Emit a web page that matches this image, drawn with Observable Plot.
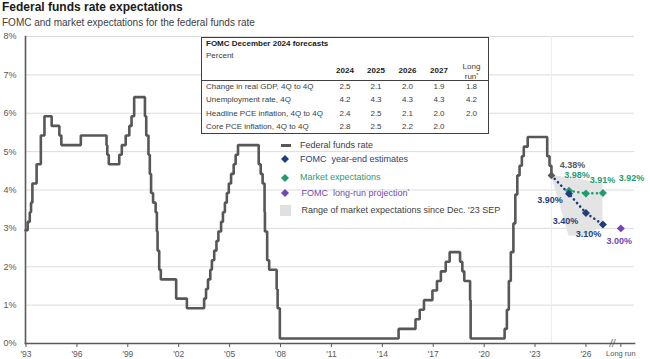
<!DOCTYPE html>
<html><head><meta charset="utf-8">
<script src="https://cdn.jsdelivr.net/npm/d3@7"></script>
<script src="https://cdn.jsdelivr.net/npm/@observablehq/plot@0.6"></script>
<style>
html,body{margin:0;padding:0;background:#fff;}
#wrap{position:relative;width:650px;height:359px;overflow:hidden;font-family:"Liberation Sans",Arial,Helvetica,sans-serif;}
.abs{position:absolute;white-space:nowrap;}
</style></head><body><div id="wrap"></div>
<script>
// ---------------- DATA ----------------
const titleText = "Federal funds rate expectations";
const subtitleText = "FOMC and market expectations for the federal funds rate";

const ffrDates = [
 "1993-12-20","1994-02-04","1994-03-22","1994-04-18","1994-05-17","1994-08-16","1994-11-15",
 "1995-02-01","1995-07-06","1995-12-19","1996-01-31","1997-03-25","1998-09-29","1998-10-15",
 "1998-11-17","1999-06-30","1999-08-24","1999-11-16","2000-02-02","2000-03-21","2000-05-16",
 "2001-01-03","2001-01-31","2001-03-20","2001-04-18","2001-05-15","2001-06-27","2001-08-21",
 "2001-09-17","2001-10-02","2001-11-06","2001-12-11","2002-11-06","2003-06-25","2004-06-30",
 "2004-08-10","2004-09-21","2004-11-10","2004-12-14","2005-02-02","2005-03-22","2005-05-03",
 "2005-06-30","2005-08-09","2005-09-20","2005-11-01","2005-12-13","2006-01-31","2006-03-28",
 "2006-05-10","2006-06-29","2007-09-18","2007-10-31","2007-12-11","2008-01-22","2008-01-30",
 "2008-03-18","2008-04-30","2008-10-08","2008-10-29","2008-12-16","2015-12-16","2016-12-14",
 "2017-03-15","2017-06-14","2017-12-13","2018-03-21","2018-06-13","2018-09-26","2018-12-19",
 "2019-07-31","2019-09-18","2019-10-30","2020-03-03","2020-03-15","2022-03-16","2022-05-04",
 "2022-06-15","2022-07-27","2022-09-21","2022-11-02","2022-12-14","2023-02-01","2023-03-22",
 "2023-05-03","2023-07-26","2024-09-18","2024-11-07","2024-12-18"
];
const ffrValues = [
 2.95,3.17,3.42,3.67,4.17,4.67,5.42,
 5.92,5.67,5.42,5.17,5.42,5.17,4.92,
 4.67,4.92,5.17,5.42,5.67,5.92,6.42,
 5.92,5.42,4.92,4.42,3.92,3.67,3.42,
 2.92,2.42,1.92,1.67,1.17,0.92,1.17,
 1.42,1.67,1.92,2.17,2.42,2.67,2.92,
 3.17,3.42,3.67,3.92,4.17,4.42,4.67,
 4.92,5.17,4.67,4.42,4.17,3.42,2.92,
 2.17,1.92,1.42,0.92,0.13,0.38,0.63,
 0.88,1.13,1.38,1.63,1.88,2.13,2.38,
 2.13,1.88,1.63,1.13,0.13,0.38,0.88,
 1.63,2.38,3.13,3.88,4.38,4.63,4.88,
 5.13,5.38,4.88,4.63,4.38
];

const currentDate = "2024-12-18";
const currentValue = 4.38;
const forecastDates = ["2025-12-31","2026-12-31","2027-12-31"];
const fomcValues = [3.90, 3.40, 3.10];
const marketValues = [3.98, 3.91, 3.92];
const longRunDate = "2029-01-20";
const longRunValue = 3.00;

const rangeDates = ["2024-12-18","2025-12-31","2026-12-31","2027-12-31"];
const rangeLow  = [4.38, 2.80, 2.80, 3.05];
const rangeHigh = [4.38, 4.32, 4.25, 4.17];

const xTickYears  = [1993,1996,1999,2002,2005,2008,2011,2014,2017,2020,2023,2026];
const xTickLabels = ["'93","'96","'99","'02","'05","'08","'11","'14","'17","'20","'23","'26"];
const longRunLabel = "Long run";
const yTicks = [0,1,2,3,4,5,6,7,8];

const legendLabels = ["Federal funds rate","FOMC  year-end estimates","Market expectations","FOMC  long-run projection*","Range of market expectations since Dec. '23 SEP"];

const tableTitle = "FOMC December 2024 forecasts";
const tableUnit = "Percent";
const tableColumns = ["2024","2025","2026","2027","Long run*"];
const tableRowLabels = ["Change in real GDP, 4Q to 4Q","Unemployment rate, 4Q","Headline PCE inflation, 4Q to 4Q","Core PCE inflation, 4Q to 4Q"];
const gdpRow   = ["2.5","2.1","2.0","1.9","1.8"];
const unempRow = ["4.2","4.3","4.3","4.3","4.2"];
const pceRow   = ["2.4","2.5","2.1","2.0","2.0"];
const corePceRow = ["2.8","2.5","2.2","2.0",""];

// ---------------- STYLE ----------------
const C = {
  ffr: "#575757", navy: "#1f3f7c", green: "#1f9d72", purple: "#7047b8",
  grid: "#dcdcdc", axis: "#595959", text: "#404040", range: "#e4e4e4"
};
const FONT = '"Liberation Sans", Arial, Helvetica, sans-serif';

// ---------------- BUILD ----------------
const parse = d3.utcParse("%Y-%m-%d");
const ffr = ffrDates.map((d, i) => ({date: parse(d), value: ffrValues[i]}));
const cur = {date: parse(currentDate), value: currentValue};
const fomc = forecastDates.map((d, i) => ({date: parse(d), value: fomcValues[i]}));
const market = forecastDates.map((d, i) => ({date: parse(d), value: marketValues[i]}));
const longRun = {date: parse(longRunDate), value: longRunValue};
const range = rangeDates.map((d, i) => ({date: parse(d), low: rangeLow[i], high: rangeHigh[i]}));
const xTicks = xTickYears.map(y => new Date(Date.UTC(y, 11, 31)));
const tickLabelByTime = new Map(xTicks.map((d, i) => [+d, xTickLabels[i]]));
const breakDate = d3.utcMonth.offset(longRun.date, -6);
const pct = v => v.toFixed(2) + "%";

const wrap = document.getElementById("wrap");
function put(html, x, cy, {size = 9, weight = "normal", color = C.text, align = "left"} = {}) {
  const el = document.createElement("div");
  el.className = "abs";
  el.innerHTML = html;
  const lh = size + 2;
  el.style.cssText += `left:${x}px;top:${cy - lh / 2}px;font-size:${size}px;line-height:${lh}px;font-weight:${weight};color:${color};`;
  if (align === "center") el.style.transform = "translateX(-50%)";
  if (align === "right") el.style.transform = "translateX(-100%)";
  wrap.appendChild(el);
  return el;
}

// title & subtitle
put(titleText, 2, 7, {size: 12, weight: "bold", color: "#1a1a1a"});
put(subtitleText, 2, 22.5, {size: 10, color: "#404040"});

// point label offsets (style)
const fomcDx = [-19, -20.5, -14.5], fomcDy = [6, 7.6, 10];
const mktDx = [8, 16.5, 28.5], mktDy = [-16, -13, -14.5];

const labelMarks = [];
fomc.forEach((p, i) => labelMarks.push(Plot.text([p], {x: "date", y: "value", text: d => pct(d.value), dx: fomcDx[i], dy: fomcDy[i], fill: C.navy, fontWeight: "bold", fontSize: 9})));
market.forEach((p, i) => labelMarks.push(Plot.text([p], {x: "date", y: "value", text: d => pct(d.value), dx: mktDx[i], dy: mktDy[i], fill: C.green, fontWeight: "bold", fontSize: 9})));
labelMarks.push(Plot.text([cur], {x: "date", y: "value", text: d => pct(d.value), dx: 21, dy: -10.5, fill: "#595959", fontWeight: "bold", fontSize: 9}));
labelMarks.push(Plot.text([longRun], {x: "date", y: "value", text: d => pct(d.value), dx: -1.5, dy: 13, fill: C.purple, fontWeight: "bold", fontSize: 9}));

const chart = Plot.plot({
  width: 650, height: 329,
  marginTop: 6, marginBottom: 16, marginLeft: 25, marginRight: 16,
  style: {fontFamily: FONT, fontSize: "9px", color: C.axis, background: "transparent", overflow: "visible"},
  x: {type: "utc", domain: [parse("1993-12-20"), parse("2029-11-10")]},
  y: {domain: [0, 8]},
  marks: [
    Plot.gridY(yTicks.filter(t => t > 0), {stroke: C.grid, strokeOpacity: 1, strokeWidth: 1}),
    Plot.ruleX([cur], {x: "date", stroke: "#ececec", strokeWidth: 1}),
    Plot.areaY(range, {x: "date", y1: "low", y2: "high", fill: C.range}),
    Plot.line(ffr, {x: "date", y: "value", curve: "step-after", stroke: C.ffr, strokeWidth: 2.6, strokeLinejoin: "miter"}),
    Plot.line([cur, ...fomc], {x: "date", y: "value", stroke: C.navy, strokeWidth: 2.6, strokeDasharray: "0.1,4.6", strokeLinecap: "round"}),
    Plot.line(market, {x: "date", y: "value", stroke: C.green, strokeWidth: 2.6, strokeDasharray: "0.1,4.6", strokeLinecap: "round"}),
    Plot.dot([cur], {x: "date", y: "value", symbol: "diamond2", r: 3.5, fill: "#595959"}),
    Plot.dot(market, {x: "date", y: "value", symbol: "diamond2", r: 3.6, fill: C.green}),
    Plot.dot(fomc, {x: "date", y: "value", symbol: "diamond2", r: 3.6, fill: C.navy}),
    Plot.dot([longRun], {x: "date", y: "value", symbol: "diamond2", r: 3.6, fill: C.purple}),
    ...labelMarks,
    Plot.axisY({ticks: yTicks, tickFormat: d => d + "%", tickSize: 0, tickPadding: 9, fontSize: 9, label: null, fill: C.axis}),
    Plot.axisX({ticks: [...xTicks, longRun.date], tickFormat: d => tickLabelByTime.get(+d) ?? "", tickSize: 4, tickPadding: 3, fontSize: 8.5, label: null, fill: C.axis, stroke: C.axis}),
    Plot.text([longRun], {x: "date", y: 0, text: () => longRunLabel, dy: 10.5, fontSize: 7.5, fill: C.axis}),
    Plot.frame({anchor: "left", stroke: C.axis, strokeWidth: 1.6}),
    Plot.frame({anchor: "bottom", stroke: C.axis, strokeWidth: 1.6}),
    Plot.text([breakDate], {x: d => d, y: 0, text: () => "//", fontSize: 10, fill: C.axis, fontStyle: "italic"})
  ]
});
chart.style.position = "absolute";
chart.style.left = "0px";
chart.style.top = "30px";
wrap.appendChild(chart);

// ---------------- TABLE (overlay) ----------------
const box = document.createElement("div");
box.className = "abs";
box.style.cssText += "left:201px;top:37px;width:288px;height:97px;box-sizing:border-box;border:1.6px solid #404040;background:#fff;";
wrap.appendChild(box);
const sep = document.createElement("div");
sep.className = "abs";
sep.style.cssText += "left:201px;top:79.5px;width:288px;height:0;border-top:1px solid #404040;";
wrap.appendChild(sep);

put(tableTitle, 206, 44, {size: 8, weight: "bold", color: "#1a1a1a"});
put(tableUnit, 206, 55.5, {size: 8});
const colX = [345, 376, 407.5, 439, 471.5];
tableColumns.forEach((c, i) => {
  if (c.startsWith("Long")) {
    const parts = c.split(" ");
    put(parts[0], colX[i], 66.5, {size: 8, align: "center"});
    put(parts[1].replace("*", '<span style="font-size:5px;vertical-align:top;line-height:6px">*</span>'), colX[i], 76.5, {size: 8, align: "center"});
  } else {
    put(c, colX[i], 70.7, {size: 8, weight: "bold", color: "#1a1a1a", align: "center"});
  }
});
const tableRows = [gdpRow, unempRow, pceRow, corePceRow];
const rowY = [86.7, 100, 113.5, 126.5];
tableRowLabels.forEach((lab, r) => {
  put(lab, 206, rowY[r], {size: 8});
  tableRows[r].forEach((v, i) => { if (v) put(v, colX[i], rowY[r], {size: 8, align: "center"}); });
});

// ---------------- LEGEND (overlay) ----------------
function swatch(svgInner, x, cy, w, h) {
  const el = document.createElement("div");
  el.className = "abs";
  el.style.cssText += `left:${x}px;top:${cy - h / 2}px;width:${w}px;height:${h}px;`;
  el.innerHTML = `<svg width="${w}" height="${h}" style="display:block">${svgInner}</svg>`;
  wrap.appendChild(el);
}
const diamond = c => `<path d="M4,0 L8,4 L4,8 L0,4Z" fill="${c}"/>`;
const legY = [145, 159, 177.5, 193, 210.5];
const legColors = [C.text, C.navy, C.green, C.purple, C.text];
swatch(`<rect x="0" y="0" width="10" height="3" fill="${C.ffr}"/>`, 281, legY[0], 10, 3);
swatch(diamond(C.navy), 281, legY[1], 8, 8);
swatch(diamond(C.green), 281, legY[2], 8, 8);
swatch(diamond(C.purple), 281, legY[3], 8, 8);
swatch(`<rect x="0" y="0" width="11" height="11" fill="#e0e0e0"/>`, 280, legY[4], 11, 11);
legendLabels.forEach((t, i) => {
  const html = t.replace(/  /g, "&nbsp; ").replace("*", '<span style="font-size:5px;vertical-align:top;line-height:6px">*</span>');
  put(html, i === 0 || i === 1 || i === 2 ? 300 : 301.5, legY[i], {size: 9, color: legColors[i]});
});
</script></body></html>
